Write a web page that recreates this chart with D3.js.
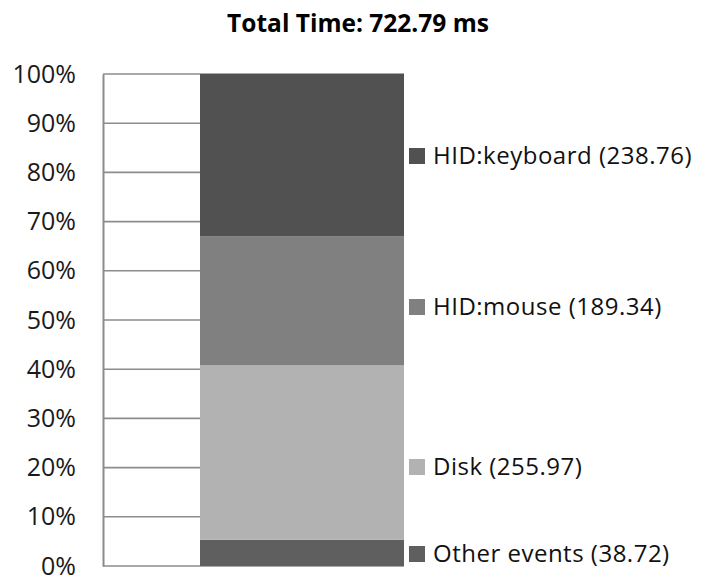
<!DOCTYPE html>
<html>
<head>
<meta charset="utf-8">
<script src="https://cdn.jsdelivr.net/npm/d3@7"></script>
<style>
  html, body { margin: 0; padding: 0; background: #fff; }
  svg { display: block; }
  text { font-family: "Open Sans", sans-serif; }
</style>
</head>
<body>
<svg id="chart" width="704" height="578"></svg>
<script>
// Time spent per event source (ms), stacked bottom to top
const categories = ["Other events", "Disk", "HID:mouse", "HID:keyboard"];
const times = [38.72, 255.97, 189.34, 238.76];
const colors = ["#5f5f5f", "#b2b2b2", "#808080", "#515151"];
const tickValues = [0, 0.1, 0.2, 0.3, 0.4, 0.5, 0.6, 0.7, 0.8, 0.9, 1.0];
const title = "Total Time: 722.79 ms";

// Vertical placement of each legend entry (px), same order as categories
const legendY = [554, 467, 307, 156];

const svg = d3.select("#chart");
const plot = { left: 103, right: 404, top: 74, bottom: 566 };
const barX0 = 200;

const total = d3.sum(times);
let acc = 0;
const stacked = times.map((v, i) => {
  const d = { name: categories[i], value: v, y0: acc / total, y1: (acc + v) / total, color: colors[i] };
  acc += v;
  return d;
});

const y = d3.scaleLinear().domain([0, 1]).range([plot.bottom, plot.top]);
const x = d3.scaleBand().domain(["all"]).range([barX0, plot.right]).padding(0);

// Title
svg.append("text")
  .attr("x", 358).attr("y", 32)
  .attr("text-anchor", "middle")
  .attr("font-size", 24.5).attr("font-weight", "bold")
  .attr("fill", "#000")
  .text(title);

// Gridlines
svg.append("g")
  .selectAll("line")
  .data(tickValues)
  .join("line")
  .attr("x1", plot.left).attr("x2", plot.right)
  .attr("y1", d => y(d)).attr("y2", d => y(d))
  .attr("stroke", "#8c8c8c").attr("stroke-width", 1.6);

// Y axis via d3.axisLeft, styled as plain labels
const yAxis = d3.axisLeft(y)
  .tickValues(tickValues)
  .tickFormat(d3.format(".0%"))
  .tickSize(0)
  .tickPadding(27);

const gy = svg.append("g")
  .attr("transform", `translate(${plot.left},0)`)
  .call(yAxis);
gy.select(".domain").attr("stroke", "#8c8c8c").attr("stroke-width", 2);
gy.selectAll("text")
  .attr("font-size", 25)
  .attr("fill", "#1a1a1a")
  .style("font-family", "'Open Sans', sans-serif");

// Stacked bar
svg.append("g")
  .selectAll("rect")
  .data(stacked)
  .join("rect")
  .attr("x", x("all"))
  .attr("width", x.bandwidth())
  .attr("y", d => y(d.y1))
  .attr("height", d => y(d.y0) - y(d.y1))
  .attr("fill", d => d.color);

// Legend with values
const legend = svg.append("g")
  .selectAll("g")
  .data(stacked)
  .join("g")
  .attr("transform", (d, i) => `translate(409,${legendY[i]})`);

legend.append("rect")
  .attr("x", 0).attr("y", -8)
  .attr("width", 16).attr("height", 16)
  .attr("fill", d => d.color);

legend.append("text")
  .attr("x", 24).attr("y", 0)
  .attr("dy", "0.35em")
  .attr("font-size", 24)
  .attr("letter-spacing", 0.5)
  .attr("fill", "#111")
  .text(d => `${d.name} (${d.value.toFixed(2)})`);
</script>
</body>
</html>
